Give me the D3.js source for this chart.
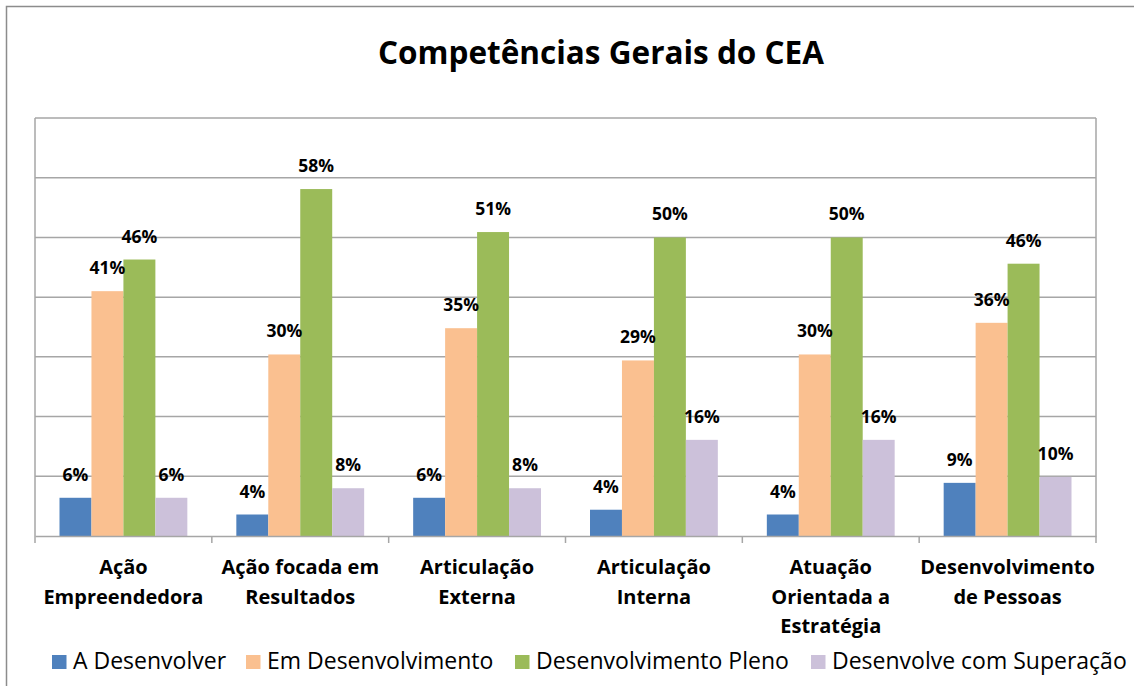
<!DOCTYPE html>
<html>
<head>
<meta charset="utf-8">
<script src="https://cdn.jsdelivr.net/npm/d3@7"></script>
<style>
  html, body { margin: 0; padding: 0; background: #fff; }
  svg { display: block; font-family: "Open Sans", Lato, sans-serif; }
</style>
</head>
<body>
<svg id="chart" width="1134" height="686"></svg>
<script>
const categories = [
  ["Ação", "Empreendedora"],
  ["Ação focada em", "Resultados"],
  ["Articulação", "Externa"],
  ["Articulação", "Interna"],
  ["Atuação", "Orientada a", "Estratégia"],
  ["Desenvolvimento", "de Pessoas"]
];
const seriesNames = ["A Desenvolver", "Em Desenvolvimento", "Desenvolvimento Pleno", "Desenvolve com Superação"];
const seriesColors = ["#4F81BD", "#FAC090", "#9BBB59", "#CCC1DA"];
const aDesenvolver = [6.4, 3.6, 6.4, 4.4, 3.6, 8.9];
const emDesenvolvimento = [41.0, 30.4, 34.8, 29.4, 30.4, 35.7];
const desenvolvimentoPleno = [46.3, 58.1, 50.9, 50.0, 50.0, 45.6];
const desenvolveSuperacao = [6.4, 8.0, 8.0, 16.1, 16.1, 9.9];
const yTicks = [0, 10, 20, 30, 40, 50, 60, 70];
const title = "Competências Gerais do CEA";

const series = [aDesenvolver, emDesenvolvimento, desenvolvimentoPleno, desenvolveSuperacao];

const svg = d3.select("#chart");
const plot = { left: 35, right: 1096, top: 118, bottom: 536 };

// outer chart border
svg.append("rect").attr("x", 6.5).attr("y", 6.5).attr("width", 1140).attr("height", 700)
  .attr("fill", "none").attr("stroke", "#8c8c8c").attr("stroke-width", 1.5);

svg.append("text").attr("x", 601).attr("y", 64).attr("text-anchor", "middle")
  .attr("font-size", 31.5).attr("font-weight", "bold").attr("fill", "#000").text(title);

const x0 = d3.scaleBand().domain(d3.range(categories.length)).range([plot.left, plot.right]).paddingInner(0).paddingOuter(0);
const x1 = d3.scaleBand().domain(d3.range(series.length)).range([24.5, x0.bandwidth() - 24.5]).padding(0);
const y = d3.scaleLinear().domain([0, 70]).range([plot.bottom, plot.top]);

// gridlines
svg.append("g").selectAll("line").data(yTicks.slice(1)).join("line")
  .attr("x1", plot.left).attr("x2", plot.right)
  .attr("y1", d => y(d)).attr("y2", d => y(d))
  .attr("stroke", "#a6a6a6").attr("stroke-width", 1.5);
// plot area sides
svg.append("line").attr("x1", plot.left).attr("x2", plot.left).attr("y1", plot.top).attr("y2", plot.bottom)
  .attr("stroke", "#a6a6a6").attr("stroke-width", 1.5);
svg.append("line").attr("x1", plot.right).attr("x2", plot.right).attr("y1", plot.top).attr("y2", plot.bottom)
  .attr("stroke", "#a6a6a6").attr("stroke-width", 1.5);

// bars
const groups = svg.append("g").selectAll("g").data(categories.map((c, i) => i)).join("g")
  .attr("transform", i => `translate(${x0(i)},0)`);
groups.selectAll("rect").data(i => series.map((s, k) => ({ k, v: s[i] }))).join("rect")
  .attr("x", d => x1(d.k)).attr("width", x1.bandwidth())
  .attr("y", d => y(d.v)).attr("height", d => y(0) - y(d.v))
  .attr("fill", d => seriesColors[d.k]);
groups.selectAll("text").data(i => series.map((s, k) => ({ k, v: s[i] }))).join("text")
  .attr("x", d => x1(d.k) + x1.bandwidth() / 2).attr("y", d => y(d.v) - 17)
  .attr("text-anchor", "middle").attr("font-size", 17.5).attr("font-weight", "bold").attr("fill", "#000")
  .text(d => Math.round(d.v) + "%");

// x axis
const xAxis = d3.axisBottom(x0).tickSize(0).tickFormat("");
const ax = svg.append("g").attr("transform", `translate(0,${plot.bottom})`).call(xAxis);
ax.select(".domain").attr("stroke", "#a6a6a6").attr("stroke-width", 1.5);
ax.selectAll(".tick").remove();
const boundaries = d3.range(categories.length + 1).map(i => i < categories.length ? x0(i) : plot.right);
ax.selectAll("line.bnd").data(boundaries).join("line").attr("class", "bnd")
  .attr("x1", d => d).attr("x2", d => d).attr("y1", 0).attr("y2", 7)
  .attr("stroke", "#a6a6a6").attr("stroke-width", 1.5);

// category labels
svg.append("g").selectAll("text").data(categories).join("text")
  .attr("text-anchor", "middle").attr("font-size", 20).attr("font-weight", "bold").attr("fill", "#000")
  .each(function (lines, i) {
    const t = d3.select(this);
    lines.forEach((ln, j) => {
      t.append("tspan").attr("x", x0(i) + x0.bandwidth() / 2).attr("y", 574 + j * 29.5).text(ln);
    });
  });

// legend
const legendX = [52, 246, 515, 811];
const lg = svg.append("g").selectAll("g").data(seriesNames).join("g")
  .attr("transform", (d, i) => `translate(${legendX[i]},655)`);
lg.append("rect").attr("width", 14.5).attr("height", 14).attr("fill", (d, i) => seriesColors[i]);
lg.append("text").attr("x", 21).attr("y", 14).attr("font-size", 23).attr("fill", "#000").text(d => d);
</script>
</body>
</html>
